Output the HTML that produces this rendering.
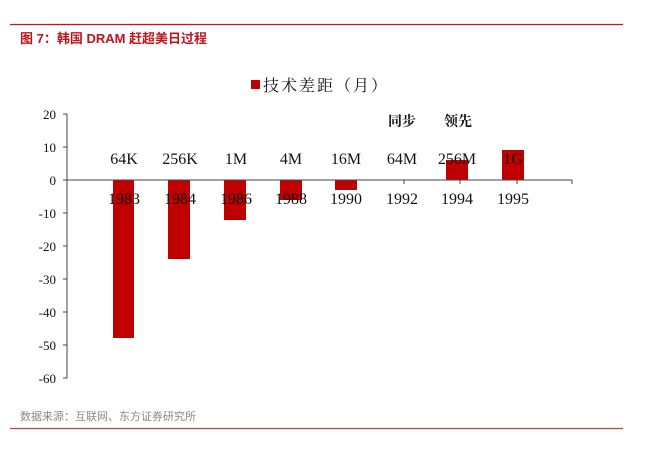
<!DOCTYPE html>
<html><head><meta charset="utf-8"><style>
body{margin:0;background:#fff;width:652px;height:445px;overflow:hidden}
</style></head><body>
<svg width="652" height="445" xmlns="http://www.w3.org/2000/svg">
<line x1="10" y1="24.5" x2="623" y2="24.5" stroke="#d01010" stroke-width="1.3"/>
<text x="20" y="43" font-family="Liberation Sans, Noto Sans CJK SC, sans-serif" font-size="13" font-weight="bold" fill="#c0141a">图 7：韩国 DRAM 赶超美日过程</text>
<rect x="251" y="80" width="9" height="9" fill="#c00000"/>
<text x="263" y="91" font-family="Noto Serif CJK SC, serif" font-size="16" fill="#111" letter-spacing="2">技术差距（月）</text>
<text x="388" y="126" font-family="Noto Serif CJK SC, serif" font-size="14" font-weight="bold" fill="#111">同步</text>
<text x="444" y="126" font-family="Noto Serif CJK SC, serif" font-size="14" font-weight="bold" fill="#111">领先</text>
<g font-family="Liberation Serif, serif" font-size="13" fill="#111" text-anchor="end">
<text x="56" y="119">20</text><text x="56" y="152">10</text><text x="56" y="185">0</text>
<text x="56" y="218">-10</text><text x="56" y="251">-20</text><text x="56" y="284">-30</text>
<text x="56" y="317">-40</text><text x="56" y="350">-50</text><text x="56" y="383">-60</text>
</g>
<g stroke="#444" stroke-width="1">
<line x1="67" y1="114" x2="67" y2="378"/>
<line x1="63" y1="114" x2="67" y2="114"/><line x1="63" y1="147" x2="67" y2="147"/>
<line x1="63" y1="213" x2="67" y2="213"/><line x1="63" y1="246" x2="67" y2="246"/>
<line x1="63" y1="279" x2="67" y2="279"/><line x1="63" y1="312" x2="67" y2="312"/>
<line x1="63" y1="345" x2="67" y2="345"/><line x1="63" y1="378" x2="67" y2="378"/>
</g>
<g fill="#c00000">
<rect x="113" y="180" width="21" height="158"/>
<rect x="168" y="180" width="22" height="79"/>
<rect x="224" y="180" width="22" height="40"/>
<rect x="280" y="180" width="22" height="20"/>
<rect x="335" y="180" width="22" height="10"/>
<rect x="446" y="160" width="22" height="20"/>
<rect x="502" y="150" width="22" height="30"/>
</g>
<line x1="63" y1="180" x2="572" y2="180" stroke="#444" stroke-width="1"/>
<g stroke="#444"><line x1="404" y1="180" x2="404" y2="184"/><line x1="460" y1="180" x2="460" y2="184"/><line x1="517" y1="180" x2="517" y2="184"/><line x1="572" y1="180" x2="572" y2="184"/></g>
<g font-family="Liberation Serif, serif" font-size="16" fill="#111" text-anchor="middle">
<text x="124" y="164">64K</text><text x="180" y="164">256K</text><text x="236" y="164">1M</text>
<text x="291" y="164">4M</text><text x="346" y="164">16M</text><text x="402" y="164">64M</text>
<text x="457" y="164">256M</text><text x="513" y="164">1G</text>
<text x="124" y="204">1983</text><text x="180" y="204">1984</text><text x="236" y="204">1986</text>
<text x="291" y="204">1988</text><text x="346" y="204">1990</text><text x="402" y="204">1992</text>
<text x="457" y="204">1994</text><text x="513" y="204">1995</text>
</g>
<text x="20" y="420" font-family="Liberation Sans, Noto Sans CJK SC, sans-serif" font-size="11" fill="#888">数据来源：互联网、东方证券研究所</text>
<line x1="10" y1="428.5" x2="623" y2="428.5" stroke="#c84040" stroke-width="1.3"/>
</svg>
</body></html>
